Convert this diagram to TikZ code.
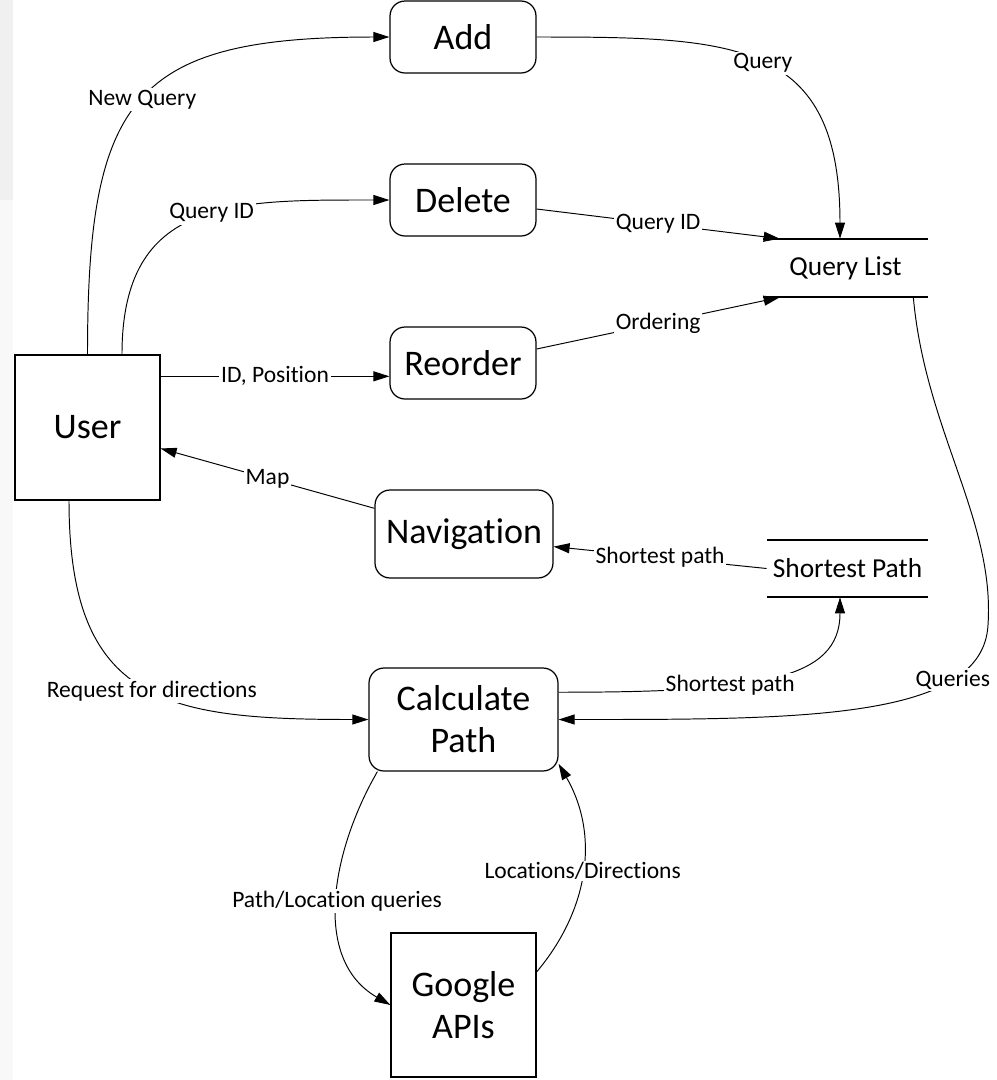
\documentclass[tikz,border=0pt]{standalone}
\usepackage{fontspec}
\setmainfont{Carlito}[Ligatures=NoCommon]
\usetikzlibrary{arrows.meta}
\definecolor{edgegrey}{HTML}{F0F0F0}
\definecolor{edgepale}{HTML}{F8F8F8}

\begin{document}
\begin{tikzpicture}[x=0.02cm,y=0.02cm,
 process/.style={draw,line width=0.7pt,rounded corners=3mm,align=center,
   inner sep=0pt,font=\fontsize{20.5}{24}\selectfont},
 entity/.style={draw,line width=0.7pt,align=center,inner sep=0pt,
   font=\fontsize{20.5}{23.5}\selectfont},
 % Data stores: text only, the two rules are drawn afterwards.
 store/.style={inner sep=0pt,font=\fontsize{15.6}{18}\selectfont},
 storeline/.style={line width=1.3pt},
 flow/.style={-{Triangle[length=3.2mm,width=2mm]},line width=0.55pt},
 lbl/.style={fill=white,inner sep=1pt,font=\fontsize{13.4}{16}\selectfont}]

\useasboundingbox (0,0) rectangle (997,-1080);
% Faint band at the left edge of the page.
\fill[edgegrey] (0,0) rectangle (13,-200);
\fill[edgepale] (0,-200) rectangle (13,-1080);

\node[process,minimum width=29.2mm,minimum height=14.4mm] (add) at (463,-37) {Add};
\node[process,minimum width=29.2mm,minimum height=14.4mm] (delete) at (463,-200) {Delete};
\node[process,minimum width=29.2mm,minimum height=14.4mm] (reorder) at (463,-363) {Reorder};
\node[process,minimum width=35.6mm,minimum height=17.6mm] (navigation) at (464,-534) {Navigation};
\node[process,minimum width=37.8mm,minimum height=20.6mm] (calcpath) at (463.5,-719.5) {Calculate\\Path};
\node[entity,minimum width=29mm,minimum height=29mm] (user) at (87.5,-427.5) {User};
\node[entity,minimum width=29mm,minimum height=28.8mm] (google) at (463.5,-1005) {Google\\APIs};
\node[store,minimum width=33mm,minimum height=11.6mm] (qlist) at (845.5,-268) {Query List};
\node[store,minimum width=32.2mm,minimum height=11.4mm] (spath) at (847.5,-568.5) {Shortest Path};

\draw[storeline] (qlist.north west) -- (qlist.north east);
\draw[storeline] (qlist.south west) -- (qlist.south east);
\draw[storeline] (spath.north west) -- (spath.north east);
\draw[storeline] (spath.south west) -- (spath.south east);

% User requests
\draw[flow] (user.north) to[out=90,in=180,looseness=1.5]
  node[lbl,pos=0.5] {New Query} (add.west);
\draw[flow] ([xshift=6.9mm]user.north) to[out=90,in=180,looseness=1.3]
  node[lbl,pos=0.55] {Query ID} (delete.west);
\draw[flow] (user.35) -- node[lbl] {ID, Position} (user.35 -| reorder.west);
\draw[flow] (navigation.164) -- node[lbl] {Map} (user.-16);
\draw[flow] ([xshift=-3.7mm]user.south) to[out=-90,in=180,looseness=1.4]
  node[lbl,pos=0.53] {Request for directions} (calcpath.west);

% Query list updates
\draw[flow] (add.east) to[out=0,in=90,looseness=1.4]
  node[lbl,pos=0.5] {Query} ([xshift=-1.1mm]qlist.north);
\draw[flow] ([yshift=-1.8mm]delete.east) -- node[lbl] {Query ID}
  ([xshift=3.4mm]qlist.north west);
\draw[flow] ([yshift=2.8mm]reorder.east) -- node[lbl] {Ordering}
  ([xshift=3.4mm]qlist.south west);

\coordinate (qbend) at (988,-625);
\draw[flow] ([xshift=-3mm]qlist.south east) .. controls +(12,-133) and +(7,105) .. (qbend)
  .. controls +(-5,-95) and +(242,0) .. (calcpath.east) node[lbl,pos=0.25] {Queries};

% Shortest path store
\draw[flow] (spath.west) -- node[lbl] {Shortest path} (navigation.-8);
\draw[flow] (calcpath.16) .. controls +(200,0) and +(0,-83) .. ([xshift=-1.5mm]spath.south)
  node[lbl,pos=0.36] {Shortest path};

% Google APIs
\draw[flow] ([xshift=1.8mm]calcpath.south west) to[out=-120,in=150]
  node[lbl,pos=0.5] {Path/Location queries} (google.west);
\draw[flow] ([yshift=6.6mm]google.east) to[out=50,in=-60]
  node[lbl,pos=0.5] {Locations/Directions} (calcpath.-25);
\end{tikzpicture}
\end{document}
